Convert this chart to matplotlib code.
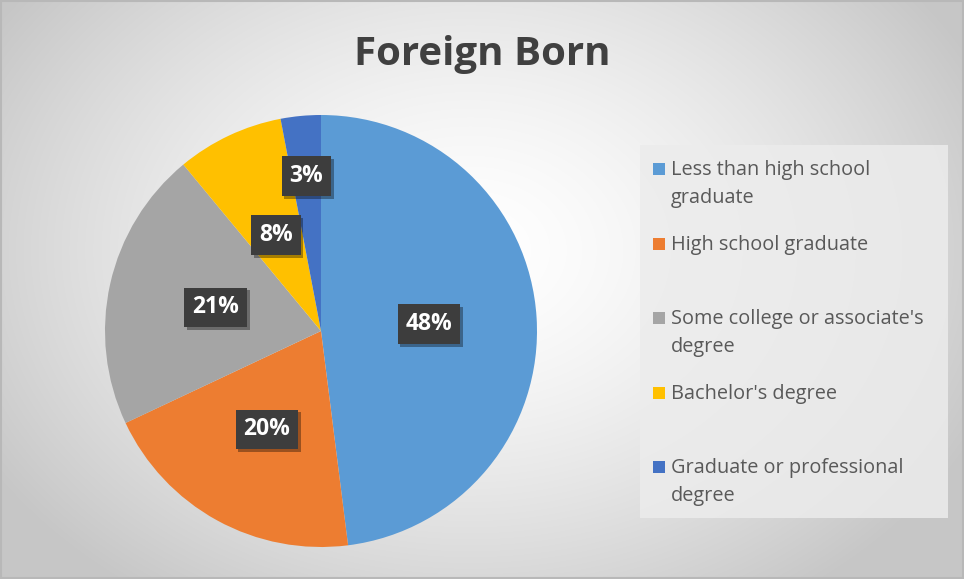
import numpy as np
import matplotlib
matplotlib.use("Agg")
import matplotlib.pyplot as plt
import matplotlib.patheffects as pe
from matplotlib.patches import Rectangle

title = "Foreign Born"
categories = ["Less than high school\ngraduate", "High school graduate",
              "Some college or associate's\ndegree", "Bachelor's degree",
              "Graduate or professional\ndegree"]
values = [48, 20, 21, 8, 3]
colors = ["#5B9BD5", "#ED7D31", "#A5A5A5", "#FFC000", "#4472C4"]

W, H = 964, 579
fig = plt.figure(figsize=(W / 100, H / 100), dpi=100)

# background radial gradient
bg = fig.add_axes([0, 0, 1, 1], zorder=0)
yy, xx = np.mgrid[0:H, 0:W]
d = np.sqrt(((xx - 470) / 560.0) ** 2 + ((yy - 250) / 420.0) ** 2)
d = np.clip(d, 0, 1)
v = 1.0 - 0.22 * d ** 1.5
img = np.dstack([v, v, v])
bg.imshow(img, extent=[0, W, H, 0], aspect="auto", interpolation="bilinear")
bg.set_xlim(0, W); bg.set_ylim(H, 0)
bg.axis("off")
bg.add_patch(Rectangle((0.5, 0.5), W - 1.5, H - 1.5, fill=False, edgecolor="#b8b8b8", lw=1.5))

fig.text(482 / W, 1 - 54 / H, title, ha="center", va="center", fontsize=29,
         fontweight="bold", color="#404040", family="Open Sans", zorder=5)

# pie
cx, cy, r = 321, 331, 216
ax = fig.add_axes([(cx - r) / W, (H - cy - r) / H, 2 * r / W, 2 * r / H], zorder=2)
wedges, _ = ax.pie(values, colors=colors, startangle=90, counterclock=False,
                   radius=1.0, wedgeprops=dict(linewidth=0))
ax.set_xlim(-1, 1); ax.set_ylim(-1, 1)
ax.set_aspect("auto")
ax.axis("off")

label_r = [0.50, 0.52, 0.50, 0.49, 0.72]
for w, val, lr in zip(wedges, values, label_r):
    ang = np.deg2rad((w.theta1 + w.theta2) / 2)
    t = ax.text(lr * np.cos(ang), lr * np.sin(ang), f"{val}%", ha="center", va="center",
                fontsize=16.5, fontweight="bold", color="white", family="Open Sans",
                bbox=dict(boxstyle="square,pad=0.34", facecolor="#3d3d3d", edgecolor="none"),
                zorder=5)
    t.get_bbox_patch().set_path_effects([pe.withSimplePatchShadow(offset=(2, -2), shadow_rgbFace="#000000", alpha=0.35)])

# legend box
leg = fig.add_axes([0, 0, 1, 1], zorder=3)
leg.set_xlim(0, W); leg.set_ylim(H, 0); leg.axis("off")
leg.patch.set_alpha(0)
lx0, ly0, lx1, ly1 = 640, 145, 948, 518
leg.add_patch(Rectangle((lx0, ly0), lx1 - lx0, ly1 - ly0, facecolor="#ececec", edgecolor="none", alpha=0.85))
slot = (ly1 - ly0) / len(categories)
for i, (lab, col) in enumerate(zip(categories, colors)):
    ytop = ly0 + i * slot + 24
    leg.add_patch(Rectangle((653, ytop - 6), 12, 12, facecolor=col, edgecolor="none"))
    leg.text(671, ytop - 9, lab, ha="left", va="top", fontsize=14.3, color="#595959",
             family="Open Sans", linespacing=1.5)

fig.savefig("out.png", dpi=100)
